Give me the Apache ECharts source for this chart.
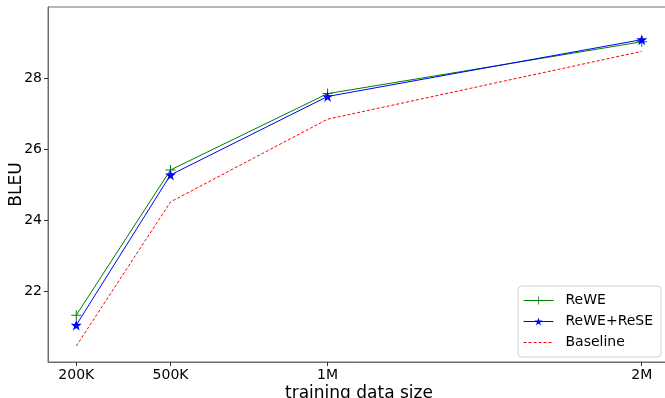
<!DOCTYPE html>
<html>
<head>
<meta charset="utf-8">
<script src="https://cdn.jsdelivr.net/npm/echarts@6/dist/echarts.min.js"></script>
<style>html,body{margin:0;padding:0;background:#fff}#c{width:665px;height:398px}</style>
</head>
<body>
<div id="c"></div>
<script>
// training data size in millions of sentence pairs
const sizes = [0.2, 0.5, 1, 2];
const sizeLabels = ['200K', '500K', '1M', '2M'];
const rewe = [21.32, 25.41, 27.56, 29.02];
const reweRese = [21.04, 25.27, 27.48, 29.08];
const baseline = [20.45, 24.51, 26.84, 28.75];
const yTicks = [22, 24, 26, 28];

const FONT = 'DejaVu Sans';
const plus = 'path://M4.5,0h1v4.5h4.5v1h-4.5v4.5h-1v-4.5h-4.5v-1h4.5z';
const star = 'path://M50,0L61.8,35.5L99,35.5L69,57.5L80.5,93L50,71L19.5,93L31,57.5L1,35.5L38.2,35.5Z';

function pts(arr) { return sizes.map((s, i) => [s, arr[i]]); }

const chart = echarts.init(document.getElementById('c'), null, {renderer: 'canvas'});
chart.setOption({
  animation: false,
  backgroundColor: '#fff',
  textStyle: {fontFamily: FONT},
  grid: {left: 48, top: 7, width: 622, height: 355, containLabel: false, outerBoundsMode: 'none',
         show: true, borderColor: '#6e6e6e', borderWidth: 1, backgroundColor: 'transparent'},
  xAxis: {
    type: 'value', min: 0.11, max: 2.09,
    name: 'training data size', nameLocation: 'middle', nameGap: 23, nameMoveOverlap: false,
    nameTextStyle: {fontSize: 17, color: '#000', fontFamily: FONT, verticalAlign: 'top'},
    axisLine: {show: true, lineStyle: {color: '#6e6e6e', width: 1}},
    axisTick: {show: true, customValues: sizes, length: 4, lineStyle: {color: '#333'}},
    axisLabel: {customValues: sizes, fontSize: 14, color: '#000', fontFamily: FONT, margin: 6,
      formatter: v => { const i = sizes.findIndex(s => Math.abs(s - v) < 1e-6); return i >= 0 ? sizeLabels[i] : ''; }},
    splitLine: {show: false}
  },
  yAxis: {
    type: 'value', min: 20, max: 30, interval: 2,
    name: 'BLEU', nameLocation: 'middle', nameGap: 23, nameRotate: 90, nameMoveOverlap: false,
    nameTextStyle: {fontSize: 17, color: '#000', fontFamily: FONT},
    axisLine: {show: true, lineStyle: {color: '#6e6e6e', width: 1}},
    axisTick: {show: true, customValues: yTicks, length: 4, lineStyle: {color: '#333'}},
    axisLabel: {customValues: yTicks, fontSize: 14, color: '#000', fontFamily: FONT, margin: 6},
    splitLine: {show: false}
  },
  legend: {
    orient: 'vertical', left: 518, top: 286,
    padding: [6, 8, 6, 5], itemGap: 4, itemWidth: 30, itemHeight: 10,
    backgroundColor: '#fff', borderColor: '#d0d0d0', borderWidth: 1, borderRadius: 4,
    lineStyle: {width: 1},
    textStyle: {fontSize: 14, color: '#000', fontFamily: FONT, padding: [0, 0, 0, 7], lineHeight: 17},
    data: ['ReWE', 'ReWE+ReSE', {name: 'Baseline', itemStyle: {opacity: 0}}]
  },
  series: [
    {name: 'ReWE', type: 'line', data: pts(rewe), symbol: plus, symbolSize: 10,
     lineStyle: {color: '#008000', width: 1}, itemStyle: {color: '#008000'}, z: 3},
    {name: 'ReWE+ReSE', type: 'line', data: pts(reweRese), symbol: star, symbolSize: 11,
     lineStyle: {color: '#0000ff', width: 1}, itemStyle: {color: '#0000ff'}, z: 4},
    {name: 'Baseline', type: 'line', data: pts(baseline), symbol: 'none', showSymbol: false,
     lineStyle: {color: '#ff0000', width: 1, type: [3, 2]}, itemStyle: {color: '#ff0000'}, z: 2}
  ]
});
</script>
</body>
</html>
